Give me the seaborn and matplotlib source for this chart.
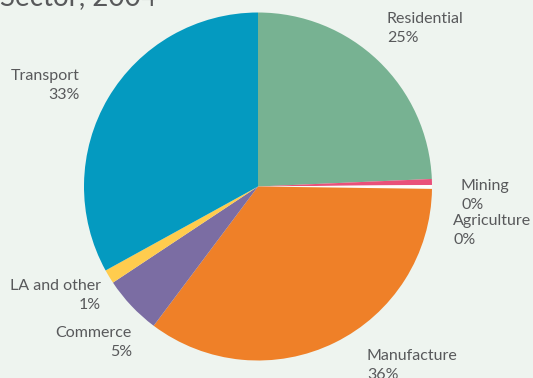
import matplotlib
matplotlib.use("Agg")
import matplotlib.pyplot as plt
import seaborn as sns

# ---- data ----
sectors = ["Residential", "Mining", "Agriculture", "Manufacture", "Commerce", "LA and other", "Transport"]
shares = [24.3, 0.55, 0.36, 35.0, 5.45, 1.3, 33.0]
pct_labels = [25, 0, 0, 36, 5, 1, 33]
colors = ["#77B292", "#E9507A", "#FDFEFD", "#EF8028", "#7B6DA3", "#FFCC4E", "#049AC0"]
title_text = "Sector, 2004"

sns.set_theme(style="white")
plt.rcParams["font.family"] = ["Lato", "DejaVu Sans"]

W, H = 533, 378
BG = "#EEF4EF"
TXT = "#58595B"

fig = plt.figure(figsize=(W / 100, H / 100), dpi=100)
fig.patch.set_facecolor(BG)

# pie axes: centre (258, 186.5) px, radius 174 px
cx, cy, r = 258, 186.5, 174
ax = fig.add_axes([(cx - r) / W, 1 - (cy + r) / H, 2 * r / W, 2 * r / H])
ax.set_facecolor(BG)
ax.pie(shares, colors=colors, startangle=90, counterclock=False,
       wedgeprops=dict(linewidth=0), radius=1)
ax.set_xlim(-1, 1)
ax.set_ylim(-1, 1)
ax.set_aspect("equal")
ax.axis("off")

# label layout: (x px, baseline y of first line px, ha)
layout = {
    "Residential": (387, 23, "left"),
    "Mining": (461, 190, "left"),
    "Agriculture": (453, 225, "left"),
    "Manufacture": (367, 360, "left"),
    "Commerce": (132, 337, "right"),
    "LA and other": (101, 290, "right"),
    "Transport": (80, 80, "right"),
}
line_gap = 19
fs = 11.5
for name, p in zip(sectors, pct_labels):
    x, y, ha = layout[name]
    fig.text(x / W, 1 - y / H, name, ha=ha, va="baseline", fontsize=fs, color=TXT)
    px = x + (1 if name == "Mining" else 0)
    fig.text(px / W, 1 - (y + line_gap) / H, f"{p}%", ha=ha, va="baseline", fontsize=fs, color=TXT)

fig.text(0 / W, 1 - 5 / H, title_text, ha="left", va="baseline", fontsize=20, color=TXT)

fig.savefig("out.png", dpi=100, facecolor=BG)
